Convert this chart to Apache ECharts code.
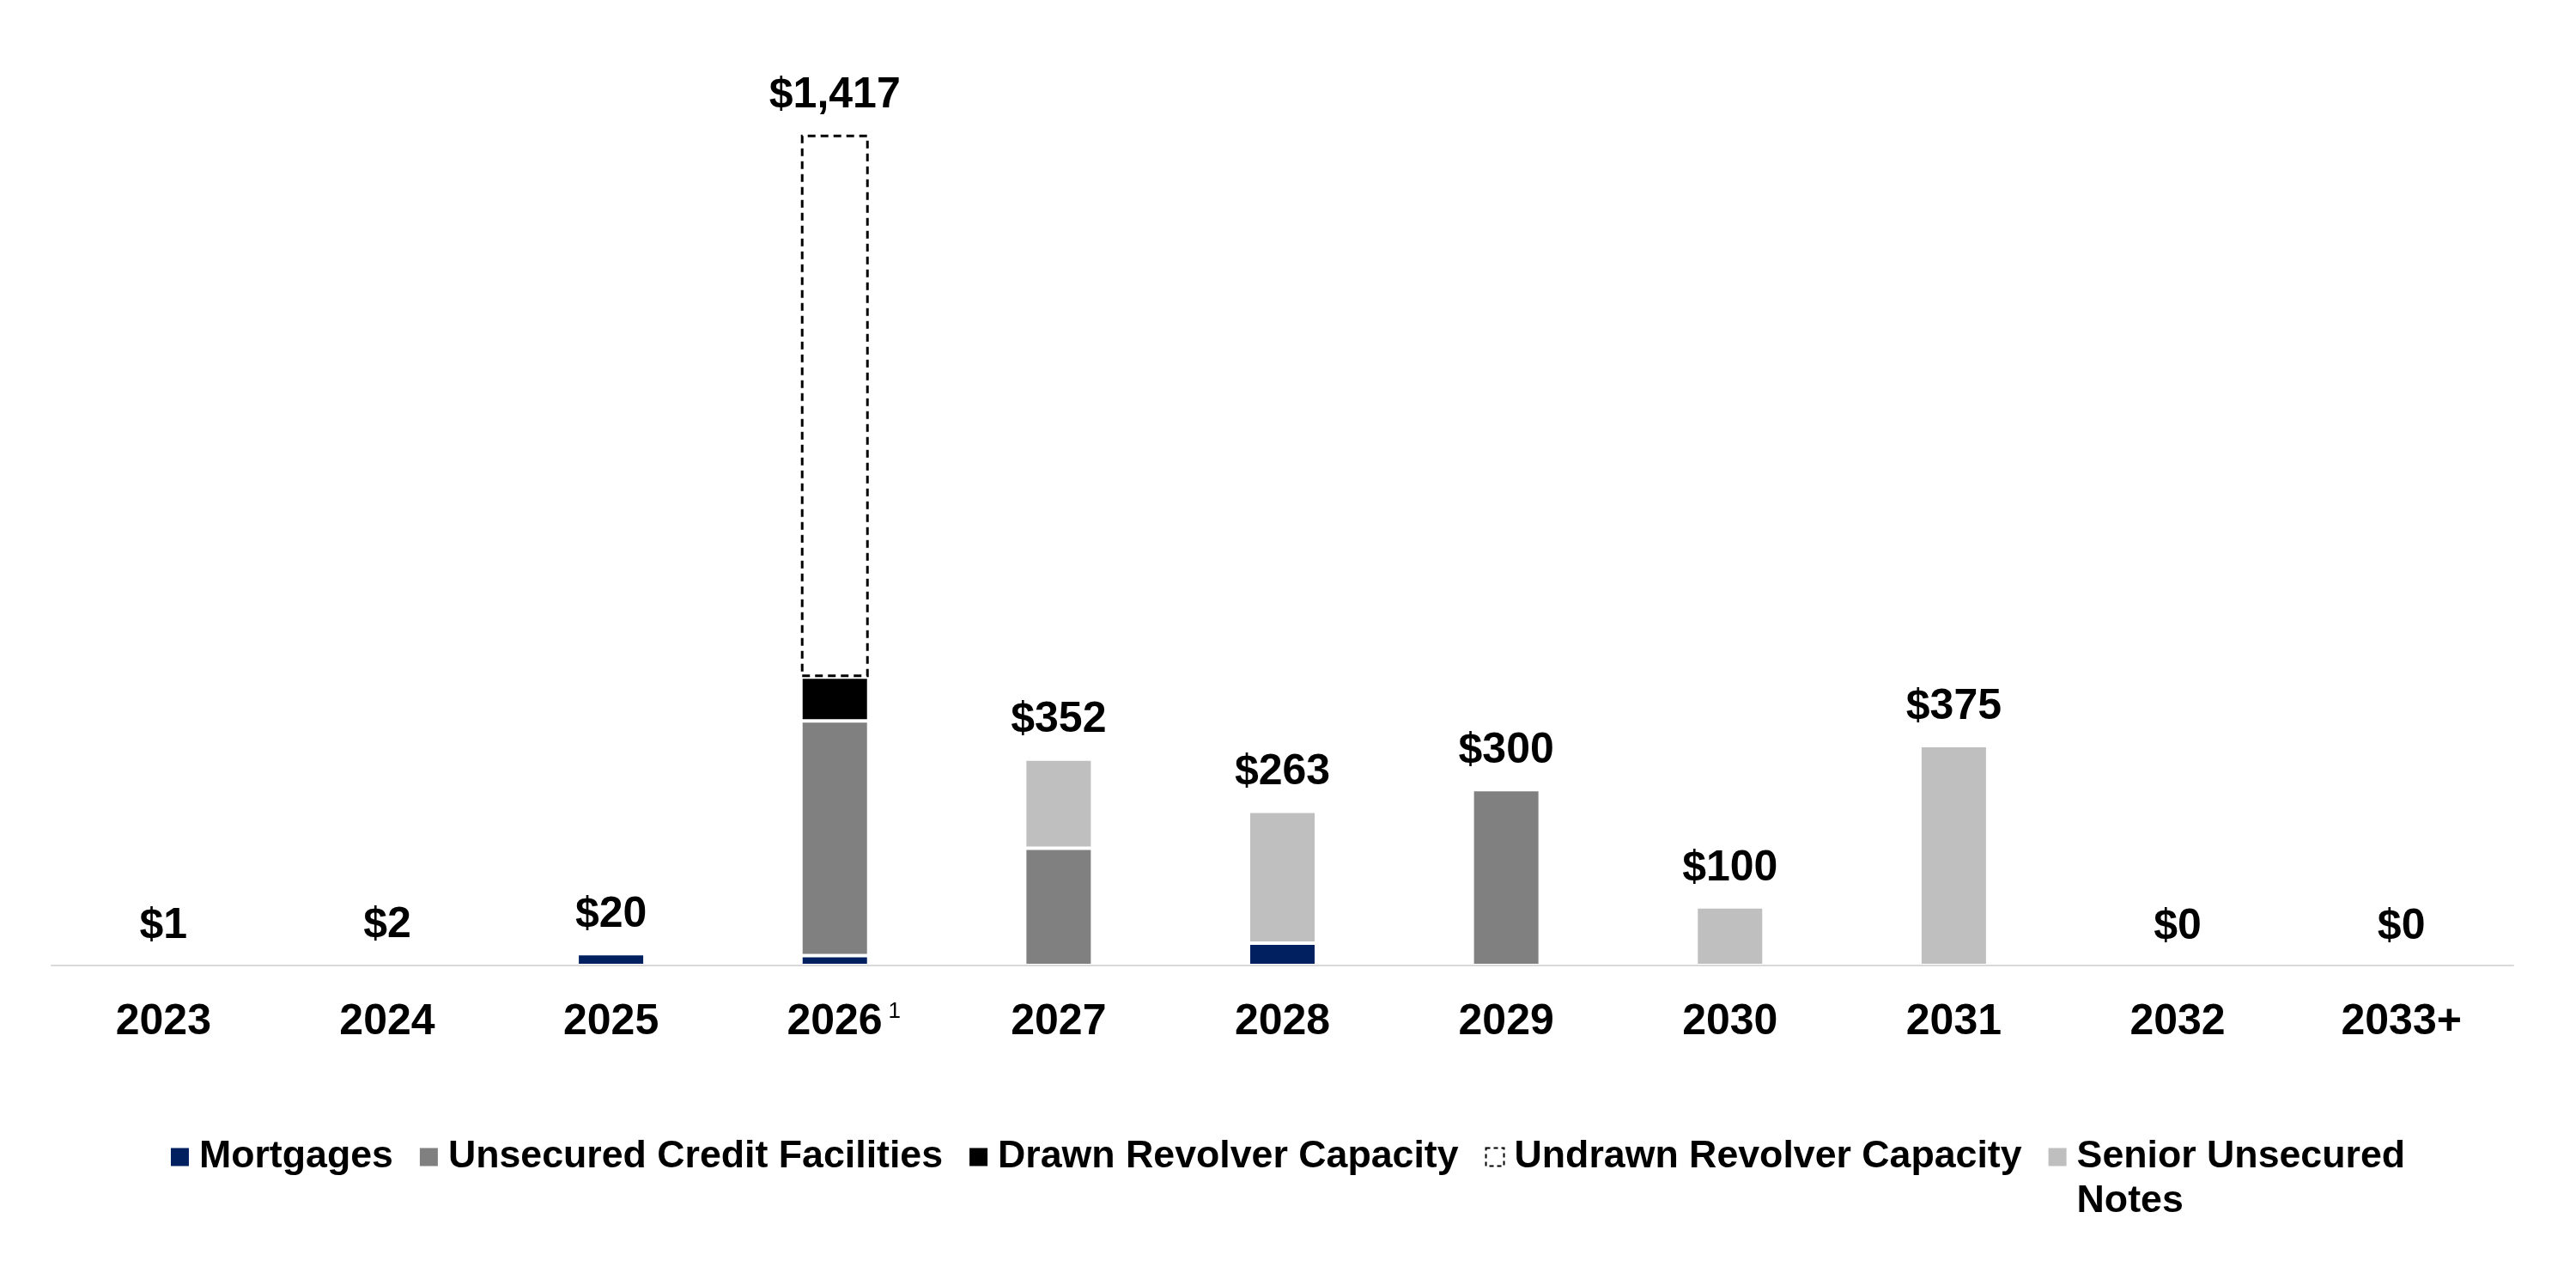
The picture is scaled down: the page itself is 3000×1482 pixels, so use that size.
<!DOCTYPE html>
<html>
<head>
<meta charset="utf-8">
<script src="https://cdn.jsdelivr.net/npm/echarts@6/dist/echarts.min.js"></script>
<style>
  html, body { margin: 0; padding: 0; background: #fff; }
  #chart { width: 3000px; height: 1482px; }
</style>
</head>
<body>
<div id="chart"></div>
<script>
// ---- data ----
const categories = ['2023', '2024', '2025', '2026', '2027', '2028', '2029', '2030', '2031', '2032', '2033+'];
const footnotes  = ['', '', '', '1', '', '', '', '', '', '', ''];
const mortgages  = [1, 2, 20, 17, '-', 38, '-', '-', '-', '-', '-'];
const unsecured  = ['-', '-', '-', 400, 200, '-', 300, '-', '-', '-', '-'];
const drawn      = ['-', '-', '-', 75, '-', '-', '-', '-', '-', '-', '-'];
const undrawn    = ['-', '-', '-', 925, '-', '-', '-', '-', '-', '-', '-'];
const senior     = ['-', '-', '-', '-', 152, 225, '-', 100, 375, '-', '-'];
const totals     = [1, 2, 20, 1417, 352, 263, 300, 100, 375, 0, 0];

const FONT = 'Liberation Sans, Arial, sans-serif';
const chart = echarts.init(document.getElementById('chart'), null, { renderer: 'canvas' });

const sepStyle = (color) => ({ color: color, borderColor: '#ffffff', borderWidth: 2 });

const option = {
  backgroundColor: '#ffffff',
  animation: false,
  grid: { left: 60, right: 73, top: 100, bottom: 358, containLabel: false },
  legend: {
    left: 'center',
    top: 1269,
    padding: 0,
    itemWidth: 21,
    itemHeight: 21,
    itemGap: 31,
    icon: 'rect',
    textStyle: {
      fontFamily: FONT, fontSize: 44.7, fontWeight: 'bold', color: '#000',
      lineHeight: 52, padding: [0, 0, 0, 7]
    },
    formatter: function (name) {
      return name === 'Senior Unsecured Notes' ? '\nSenior Unsecured\nNotes' : name;
    },
    data: [
      { name: 'Mortgages', itemStyle: { borderWidth: 0 } },
      { name: 'Unsecured Credit Facilities', itemStyle: { borderWidth: 0 } },
      { name: 'Drawn Revolver Capacity', itemStyle: { borderWidth: 0 } },
      { name: 'Undrawn Revolver Capacity', itemStyle: { borderWidth: 2, borderColor: '#000', borderType: [5, 4] } },
      { name: 'Senior Unsecured Notes', itemStyle: { borderWidth: 0 } }
    ]
  },
  xAxis: {
    type: 'category',
    data: categories,
    z: 5,
    axisLine: { show: true, lineStyle: { color: '#d9d9d9', width: 2 } },
    axisTick: { show: false },
    axisLabel: {
      margin: 41,
      fontFamily: FONT, fontSize: 50, fontWeight: 'bold', color: '#000', lineHeight: 50,
      interval: 0,
      formatter: function (value, idx) {
        const fn = footnotes[idx];
        return fn ? '{l| }{y|' + value + '}{sup|' + fn + '}' : value;
      },
      rich: {
        y: { fontFamily: FONT, fontSize: 50, fontWeight: 'bold', color: '#000', lineHeight: 50 },
        sup: { fontFamily: FONT, fontSize: 26, fontWeight: 'normal', color: '#000', lineHeight: 26, verticalAlign: 'top', padding: [0, 0, 0, 7] },
        l: { width: 21, fontSize: 26 }
      }
    }
  },
  yAxis: {
    type: 'value', min: 0, max: 1500, show: false,
    splitLine: { show: false }
  },
  series: [
    { name: 'Mortgages', type: 'bar', stack: 'debt', barWidth: 79, data: mortgages, itemStyle: sepStyle('#002060') },
    { name: 'Unsecured Credit Facilities', type: 'bar', stack: 'debt', barWidth: 79, data: unsecured, itemStyle: sepStyle('#808080') },
    { name: 'Drawn Revolver Capacity', type: 'bar', stack: 'debt', barWidth: 79, data: drawn, itemStyle: sepStyle('#000000') },
    { name: 'Undrawn Revolver Capacity', type: 'bar', stack: 'debt', barWidth: 79, data: undrawn,
      itemStyle: { color: '#ffffff', borderColor: '#000000', borderWidth: 3, borderType: [9, 6] } },
    { name: 'Senior Unsecured Notes', type: 'bar', stack: 'debt', barWidth: 79, data: senior, itemStyle: sepStyle('#bfbfbf') },
    { name: 'Total', type: 'bar', stack: 'debt', barWidth: 79,
      data: totals.map(function () { return 0; }),
      itemStyle: { color: 'rgba(0,0,0,0)', borderWidth: 0 },
      label: {
        show: true, position: 'top', distance: 20,
        fontFamily: FONT, fontSize: 50, fontWeight: 'bold', color: '#000',
        formatter: function (p) { return '$' + totals[p.dataIndex].toLocaleString('en-US'); }
      },
      tooltip: { show: false }
    }
  ]
};
chart.setOption(option);
</script>
</body>
</html>
